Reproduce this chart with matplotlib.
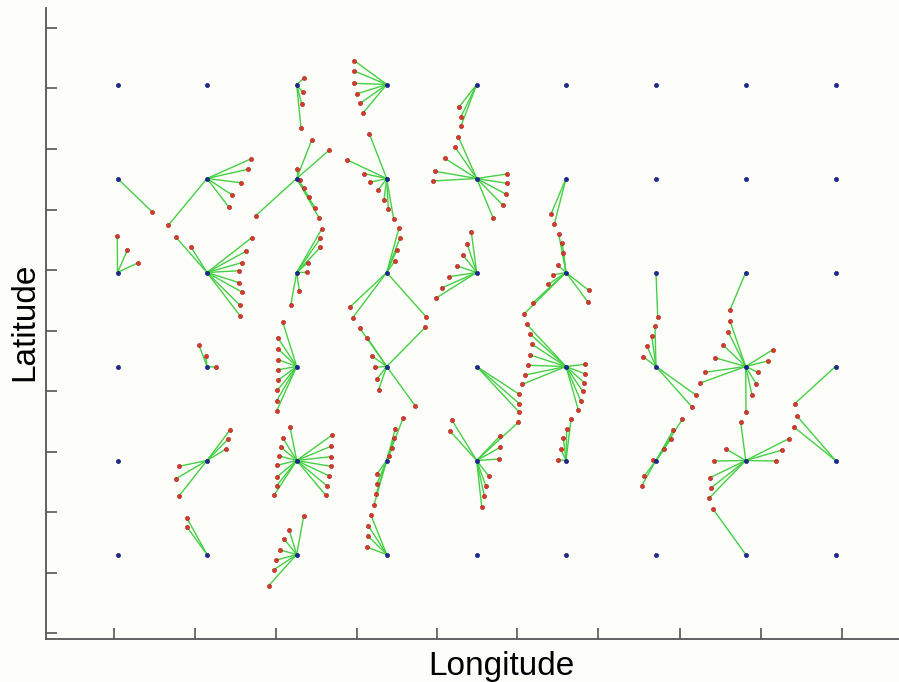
import matplotlib
matplotlib.use("Agg")
import matplotlib.pyplot as plt

# station grid (blue dots), positions
grid_lon = [117.5, 207, 296.7, 386.7, 476.7, 566, 656, 745.7, 835.5]
grid_lat = [84.5, 178.5, 272.5, 366.5, 460.5, 554.5]

# linked events (red dots) per station (col, row)
links = {
    (2, 0): [(304, 78), (302.7, 92.3), (301.7, 104), (301, 128)],
    (3, 0): [(354.3, 60.7), (354.3, 71), (354.3, 83.3), (357.3, 93.7), (360.3, 103.3), (363.3, 112.7)],
    (4, 0): [(459.3, 106.7), (461, 116.7), (461, 126)],
    (0, 1): [(152.3, 212)],
    (1, 1): [(250.7, 159), (247.7, 169.3), (240.7, 182.7), (231.7, 194.7), (228.7, 207), (168.3, 225.3)],
    (2, 1): [(311.7, 140), (329, 150.3), (296.7, 168.7), (300, 180), (255.7, 215.7),
             (304.3, 188.3), (309.3, 197.3), (315, 207.7), (319.3, 218.3)],
    (3, 1): [(369.3, 133.7), (346.7, 159.7), (364.3, 173.7), (370, 182.3), (378, 190.3),
             (384, 200), (388.3, 208.7), (393.7, 219.3)],
    (4, 1): [(458.3, 136.7), (455, 147), (444.7, 158.3), (435, 171.3), (433, 181),
             (506.7, 174), (506.7, 183.3), (505.7, 194), (503, 205.3), (493.3, 218.3)],
    (5, 1): [(551, 214), (554.3, 224.3)],
    (0, 2): [(117.3, 235.7), (127.3, 250.3), (138.3, 262.7)],
    (1, 2): [(176, 237.3), (191, 247), (251.7, 237.7), (246, 251.3), (241.7, 262.7),
             (239.3, 270.7), (239.3, 282.7), (242.3, 292.3), (240, 305.3), (240, 315.7)],
    (2, 2): [(321.7, 229), (320.3, 238.3), (320.3, 247.3), (307.7, 262.7), (307.3, 272.3),
             (299.3, 290.7), (290.7, 305.3)],
    (3, 2): [(399, 228), (400, 237.7), (397, 249.7), (394.7, 261.3), (350, 307),
             (352.7, 317.7), (426, 316.7)],
    (4, 2): [(471.3, 232.3), (467, 243.7), (462.7, 254.7), (457, 266), (449, 276.7),
             (441.7, 288), (435.7, 298.3)],
    (5, 2): [(558.7, 234), (562.3, 243.3), (563.3, 253), (558, 265.3), (553, 275),
             (548.3, 284.3), (533, 302.7), (524, 314), (588.7, 290.3), (587.7, 301.7)],
    (6, 2): [(657.7, 316.7)],
    (7, 2): [(730, 310)],
    (1, 3): [(199, 345.3), (205.7, 356), (216.3, 367.3)],
    (2, 3): [(282.7, 322), (277.7, 337.7), (278.3, 349), (278.3, 359.7), (278.3, 369.7),
             (278.3, 380), (277.3, 390.3), (276.7, 400.7), (276.7, 410.7)],
    (3, 3): [(359.7, 328), (367.3, 337.7), (372, 356), (375.3, 367.3), (377, 379),
             (378.7, 389.7), (415.3, 406), (425.3, 327.3)],
    (4, 3): [(519.3, 394.3), (519.3, 403.7), (519.3, 412.3)],
    (5, 3): [(526.7, 324.3), (530, 334), (532, 344.3), (530, 355), (528.3, 365.3), (525, 375),
             (522.3, 384.3), (585.3, 364.3), (585.3, 374), (584.3, 382.7), (582.7, 391.3),
             (580.7, 400.7), (578.3, 409.7)],
    (6, 3): [(655, 326.3), (651.7, 336), (647, 346.3), (643.3, 356.7), (696.3, 395.3), (692, 407)],
    (7, 3): [(730, 321), (728.3, 332.3), (723.3, 345.3), (714.7, 357.7), (705, 372.3),
             (700.3, 383), (772.7, 349.7), (767.7, 361), (758, 372.3), (756.3, 384),
             (752, 395), (746, 411.7)],
    (8, 3): [(794.7, 403.7)],
    (1, 4): [(230, 430), (228, 439.3), (226, 449), (179, 466.3), (176, 478.7), (179, 496)],
    (2, 4): [(290, 427), (282.7, 437.7), (281, 447.3), (279.3, 456), (277.3, 465.3),
             (277.3, 476.7), (276.7, 485.7), (274, 495.3), (331.7, 435.3), (331, 446.3),
             (330.7, 456.7), (330.7, 466.3), (329.3, 476), (326.7, 485.7), (325.7, 495.3)],
    (3, 4): [(403.3, 417.7), (395.3, 429), (394.3, 437.7), (392.3, 447.7), (389, 455.7),
             (377, 474), (376.7, 484.3), (376, 494.3), (374, 505)],
    (4, 4): [(451.7, 419.7), (449.7, 430.7), (518.3, 422.3), (500.3, 435.7), (500.3, 447.3),
             (499.3, 459), (488.7, 476.3), (485.7, 485.7), (484.3, 496), (481.7, 506.7)],
    (5, 4): [(571, 419.3), (566.7, 429), (563.3, 437.7), (560.7, 449), (558.3, 459.7)],
    (6, 4): [(682.3, 419.3), (673.3, 430), (670.7, 439.3), (664.3, 449.3), (653, 460.3),
             (644.3, 476), (641.7, 485.7)],
    (7, 4): [(740.7, 422), (726, 449), (714.3, 461), (788.7, 438.7), (782.3, 450),
             (776.3, 461), (710, 477.7), (711, 488), (709, 498.3)],
    (8, 4): [(796.7, 415.7), (794, 427)],
    (1, 5): [(186.7, 517.7), (186.7, 526.7)],
    (2, 5): [(303.7, 516), (289, 529.7), (284.3, 539.3), (280, 550), (275.7, 560.3),
             (273.7, 570), (268.7, 585.7)],
    (3, 5): [(371, 515.3), (368.3, 525.7), (368.3, 536.3), (367.3, 547.3)],
    (7, 5): [(713, 509)],
}

x_ticks = [114.3, 195.3, 276, 357, 437, 517, 598, 680, 761, 842]
y_ticks = [27.7, 87.7, 148.7, 209.7, 270, 330.7, 391, 451.7, 512, 572.7, 633.3]

bg = '#fdfdfa'
fig = plt.figure(figsize=[8.99, 6.82], dpi=100, facecolor=bg)
ax = fig.add_axes([45.5 / 899, 43 / 682, 1 - 45.5 / 899, 631 / 682])
ax.set_facecolor(bg)

# green links first
for (i, j), pts in links.items():
    sx, sy = grid_lon[i], grid_lat[j]
    for (ex, ey) in pts:
        ax.plot([sx, ex], [sy, ey], color='#44d044', linewidth=1.0, zorder=1)

# red events
ev_x = [p[0] for pts in links.values() for p in pts]
ev_y = [p[1] for pts in links.values() for p in pts]
ax.scatter(ev_x, ev_y, s=9, color='#d83a2a', edgecolors='#a02018', linewidths=0.4, zorder=2)

# blue stations
st_x = [x for y in grid_lat for x in grid_lon]
st_y = [y for y in grid_lat for x in grid_lon]
ax.scatter(st_x, st_y, s=9, color='#1a2a9a', edgecolors='#101060', linewidths=0.4, zorder=3)

ax.set_xlim(45.5, 899)
ax.set_ylim(639, 8)
ax.set_xticks(x_ticks)
ax.set_yticks(y_ticks)
ax.set_xticklabels([])
ax.set_yticklabels([])
ax.tick_params(direction='in', length=8, width=1.2, color='#555555')
for s in ['top', 'right']:
    ax.spines[s].set_visible(False)
for s in ['left', 'bottom']:
    ax.spines[s].set_color('#555555')
    ax.spines[s].set_linewidth(1.3)

fig.text(25 / 899, 1 - 322 / 682, 'Latitude', rotation=90, ha='center', va='center',
         fontsize=24, family='Liberation Sans')
fig.text(501 / 899, 1 - 666 / 682, 'Longitude', ha='center', va='center',
         fontsize=24, family='Liberation Sans')

fig.savefig('out.png', dpi=100, facecolor=bg)
